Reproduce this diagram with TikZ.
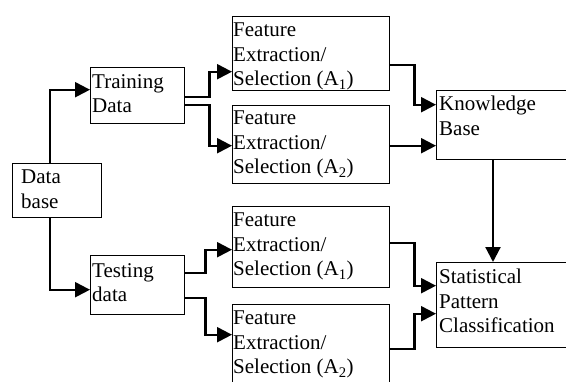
\documentclass[tikz,border=0pt]{standalone}
\usepackage{fontspec}
\setmainfont{Liberation Serif}
\usetikzlibrary{arrows.meta}
\tikzset{
  box/.style={draw, line width=1.4pt, rectangle, inner sep=0pt, anchor=north west},
  lbl/.style={anchor=north west, inner sep=0pt, align=left, font=\fontsize{21}{24.5}\selectfont},
  arr/.style={line width=2.2pt, -{Triangle[length=15pt,width=15pt]}},
}
\begin{document}
\begin{tikzpicture}[x=1pt,y=-1pt]
\useasboundingbox (0,0) rectangle (566,381);
\clip (0,0) rectangle (566,381);
% boxes
\node[box, minimum width=89pt, minimum height=54pt] (db) at (12,163) {};
\node[box, minimum width=94pt, minimum height=56pt] (tr) at (90,67) {};
\node[box, minimum width=94pt, minimum height=59pt] (te) at (90,255) {};
\node[box, minimum width=157pt, minimum height=74pt] (f1) at (232,16) {};
\node[box, minimum width=157pt, minimum height=78pt] (f2) at (232,105) {};
\node[box, minimum width=157pt, minimum height=81pt] (f3) at (232,206) {};
\node[box, minimum width=157pt, minimum height=86pt] (f4) at (232,304) {};
\node[box, minimum width=170pt, minimum height=69pt] (kb) at (436,90) {};
\node[box, minimum width=170pt, minimum height=85pt] (sp) at (436,262) {};
% labels
\node[lbl] (dbt) at ([shift={(9,7)}]db.north west) {Data\\base};
\node[lbl] (trt) at ([shift={(2,7)}]tr.north west) {Training\\Data};
\node[lbl] (tet) at ([shift={(2,8)}]te.north west) {Testing\\data};
\node[lbl] (f1t) at ([shift={(1,7)}]f1.north west) {Feature\\Extraction/\\Selection (A\textsubscript{1})};
\node[lbl] (f2t) at ([shift={(1,6)}]f2.north west) {Feature\\Extraction/\\Selection (A\textsubscript{2})};
\node[lbl] (f3t) at ([shift={(1,7)}]f3.north west) {Feature\\Extraction/\\Selection (A\textsubscript{1})};
\node[lbl] (f4t) at ([shift={(1,7)}]f4.north west) {Feature\\Extraction/\\Selection (A\textsubscript{2})};
\node[lbl] (kbt) at ([shift={(3,6)}]kb.north west) {Knowledge\\Base};
\node[lbl] (spt) at ([shift={(3,7)}]sp.north west) {Statistical\\Pattern\\Classification};
% connectors
\draw[arr] ([shift={(-7.5,0)}]db.north) |- ([shift={(0,-6)}]tr.west);
\draw[arr] ([shift={(-7.5,0)}]db.south) |- ([shift={(0,4.5)}]te.west);
\draw[arr] ([shift={(0,1)}]tr.east) -- ++(24,0) |- ([shift={(0,18)}]f1.west);
\draw[arr] ([shift={(0,9)}]tr.east) -- ++(24,0) |- ([shift={(0,1)}]f2.west);
\draw[arr] ([shift={(0,-12.5)}]te.east) -- ++(20,0) |- ([shift={(0,2.5)}]f3.west);
\draw[arr] ([shift={(0,12.5)}]te.east) -- ++(20,0) |- ([shift={(0,-13)}]f4.west);
\draw[arr] ([shift={(0,11)}]f1.east) -- ++(24,0) |- ([shift={(0,-20.5)}]kb.west);
\draw[arr] ([shift={(0,1)}]f2.east) -- ([shift={(0,20.5)}]kb.west);
\draw[arr] ([shift={(57,0)}]kb.south west) -- ([shift={(57,0)}]sp.north west);
\draw[arr] ([shift={(0,-4.5)}]f3.east) -- ++(24,0) |- ([shift={(0,-19.5)}]sp.west);
\draw[arr] ([shift={(0,1)}]f4.east) -- ++(24,0) |- ([shift={(0,8.5)}]sp.west);
\end{tikzpicture}
\end{document}
